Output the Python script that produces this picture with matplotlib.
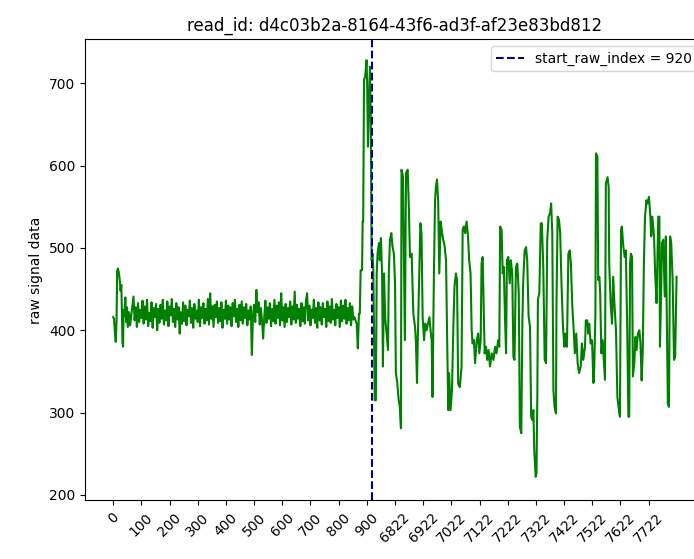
import matplotlib.pyplot as plt

read_id = 'd4c03b2a-8164-43f6-ad3f-af23e83bd812'
start_raw_index = 920

# plotted sample position (two 1000-sample windows joined) and raw signal
head_pos = [0, 3, 6, 9, 12, 14, 17, 20, 23, 26, 29, 31, 33, 35, 37, 40, 43, 46, 49, 52]
head_sig = [416, 414, 398, 386, 412, 472, 475, 470, 462, 448, 455, 420, 384, 380, 425, 418, 440, 410, 428, 404]

# flat open-pore part, one reading every 4 samples from 56 to 856
band_pos = list(range(56, 860, 4))
band_sig = [422, 406, 418, 430, 441, 412, 428, 404, 433, 410,
            425, 415, 436, 408, 429, 413, 437, 405, 421, 411,
            434, 403, 427, 416, 432, 400, 426, 409, 431, 414,
            437, 407, 424, 412, 435, 405, 429, 418, 438, 410,
            426, 404, 433, 413, 428, 396, 422, 408, 434, 411,
            430, 406, 425, 417, 436, 409, 427, 403, 432, 414,
            424, 410, 437, 405, 428, 415, 433, 408, 426, 412,
            438, 407, 445, 414, 429, 404, 431, 416, 435, 409,
            427, 411, 434, 403, 425, 414, 436, 408, 430, 413,
            428, 405, 433, 417, 437, 410, 426, 404, 431, 412,
            435, 408, 428, 415, 432, 406, 424, 413, 429, 370,
            418, 431, 410, 449, 422, 434, 407, 427, 412, 390,
            416, 436, 409, 428, 414, 433, 405, 426, 411, 437,
            408, 430, 415, 434, 406, 445, 412, 428, 404, 432,
            410, 427, 416, 435, 407, 429, 413, 447, 409, 431,
            414, 426, 405, 433, 411, 428, 408, 436, 445, 412,
            430, 406, 425, 415, 437, 409, 427, 403, 434, 412,
            428, 407, 433, 416, 426, 404, 435, 411, 429, 409,
            438, 413, 425, 406, 432, 415, 428, 404, 436, 411,
            430, 414, 437, 408, 427, 412, 433, 406, 429, 413,
            416]

tail_pos = [864, 868, 872,
            875, 878, 883, 885, 887, 890, 894, 899, 901, 904, 907, 911, 914, 917, 920, 923,
            928, 932, 935, 938, 943, 946, 950, 954, 957, 961, 965, 970, 975, 978, 982, 987,
            991, 996, 1000, 1003, 1008, 1013, 1017, 1021, 1023, 1028, 1032, 1035, 1039, 1045,
            1049, 1053, 1059, 1065, 1071, 1074, 1078, 1081, 1086, 1090, 1094, 1098, 1103, 1107,
            1112, 1117, 1122, 1126, 1130, 1133, 1138, 1142, 1145, 1149, 1153, 1157, 1162, 1167,
            1171, 1176, 1181, 1185, 1189, 1192, 1197, 1202, 1207, 1211, 1216, 1220, 1224, 1230,
            1236, 1240, 1244, 1249, 1254, 1259, 1263, 1268, 1272, 1275, 1280, 1284, 1290, 1295,
            1299, 1304, 1307, 1311, 1314, 1318, 1323, 1327, 1332, 1337, 1343, 1349, 1355, 1360,
            1366, 1370, 1373, 1378, 1382, 1386, 1390, 1394, 1397, 1402, 1407, 1411, 1416, 1420,
            1424, 1429, 1434, 1439, 1443, 1448, 1452, 1455, 1460, 1465, 1469, 1474, 1479, 1483,
            1487, 1491, 1494, 1499, 1502, 1505, 1507, 1512, 1517, 1521, 1526, 1531, 1536, 1540,
            1545, 1550, 1554, 1558, 1562, 1566, 1571, 1573, 1577, 1582, 1586, 1591, 1596, 1601,
            1605, 1610, 1615, 1620, 1624, 1629, 1634, 1638, 1643, 1648, 1653, 1659, 1663, 1668,
            1674, 1677, 1682, 1686, 1689, 1694, 1699, 1704, 1707, 1711, 1713, 1718, 1721, 1725,
            1728, 1732, 1737, 1740, 1745, 1748, 1751, 1754, 1758, 1760, 1765, 1770, 1774, 1779,
            1784, 1789, 1793, 1798, 1802, 1805, 1810, 1815, 1819, 1824, 1828, 1831, 1834, 1837,
            1841, 1844, 1849, 1853, 1857, 1862, 1867, 1871, 1875, 1879, 1883, 1887, 1892, 1896,
            1901, 1906, 1909, 1913, 1919, 1923, 1928, 1934, 1938, 1940, 1944, 1947, 1952, 1957,
            1961, 1965, 1968, 1972, 1976, 1980, 1985, 1990, 1994, 1999]
tail_sig = [408, 378, 420,
            420, 473, 473, 532, 532, 704, 708, 728, 700, 623, 672, 720, 651, 485, 493, 473,
            315, 315, 469, 493, 506, 485, 512, 469, 356, 469, 416, 396, 376, 469, 510, 518,
            502, 493, 457, 348, 336, 315, 307, 281, 595, 587, 469, 388, 591, 595,
            550, 489, 493, 420, 404, 388, 336, 392, 469, 530, 518, 416, 388, 408,
            400, 408, 416, 400, 388, 319, 469, 558, 574, 583, 558, 469, 532, 518,
            510, 502, 485, 388, 303, 348, 303, 327, 404, 453, 469, 461, 335, 331,
            356, 522, 526, 518, 532, 514, 485, 469, 400, 384, 388, 360, 388, 396,
            372, 388, 481, 489, 437, 372, 380, 364, 376, 356, 372, 364, 380, 372,
            388, 380, 526, 522, 469, 477, 417, 372, 485, 489, 457, 485, 469, 368,
            364, 477, 481, 445, 283, 275, 412, 461, 497, 501, 485, 417, 404, 295,
            291, 303, 255, 222, 226, 323, 437, 445, 530, 530, 477, 364, 360, 510,
            538, 542, 554, 518, 327, 307, 299, 437, 538, 534, 518, 453, 404, 380,
            396, 380, 493, 497, 481, 429, 400, 372, 396, 360, 348, 356, 384, 364,
            380, 412, 412, 396, 408, 384, 388, 336, 356, 421, 615, 611, 461, 465,
            445, 372, 388, 368, 340, 578, 582, 586, 574, 481, 433, 408, 465, 429,
            400, 319, 307, 295, 522, 526, 502, 489, 497, 400, 295, 295, 481, 493,
            489, 344, 360, 392, 376, 396, 400, 384, 339, 376, 481, 538, 558, 554,
            562, 538, 514, 538, 514, 469, 433, 538, 538, 380, 441, 506, 510, 441,
            514, 400, 311, 307, 514, 506, 461, 364, 368, 465]

tick_pos = list(range(0, 2000, 100))
tick_labels = ['0', '100', '200', '300', '400', '500', '600', '700', '800', '900',
               '6822', '6922', '7022', '7122', '7222', '7322', '7422', '7522', '7622', '7722']

pos = head_pos + band_pos + tail_pos
signal = head_sig + band_sig + tail_sig

fig = plt.figure(figsize=(6.94, 5.59), dpi=100)
ax = fig.add_axes([0.1225, 0.1047, 0.893, 0.825])
ax.plot(pos, signal, color='green')
ax.axvline(start_raw_index, color='darkblue', linestyle='--',
           label='start_raw_index = ' + str(start_raw_index))
ax.set_xlim(-100, 2099)
ax.set_ylim(193.3, 753.4)
ax.set_xticks(tick_pos)
ax.set_xticklabels(tick_labels, rotation=45)
ax.set_ylabel('raw signal data')
ax.set_title('read_id: ' + read_id)
ax.legend(loc='upper right')
fig.savefig('out.png')
